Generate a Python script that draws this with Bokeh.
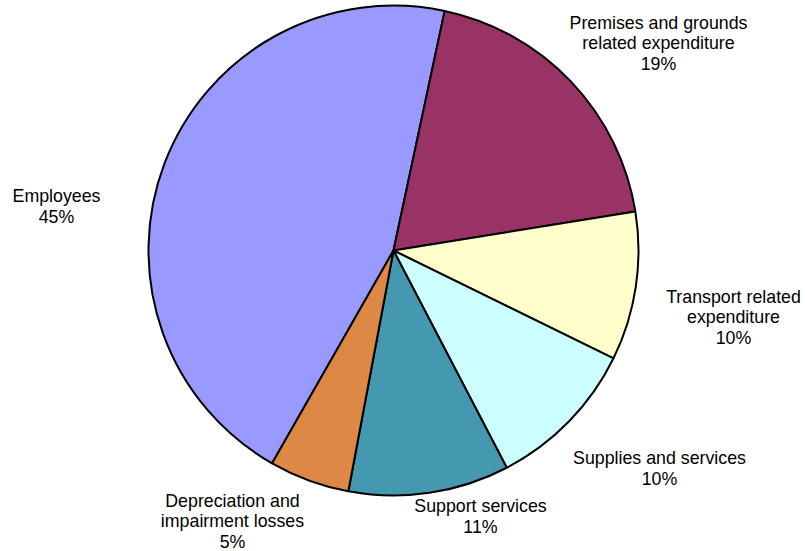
import numpy as np
from bokeh.plotting import figure
from bokeh.models import ColumnDataSource
from bokeh.core.properties import value
from bokeh.embed import file_html
from bokeh.resources import INLINE

# ---- data ----
categories = ["Employees", "Premises and grounds\nrelated expenditure", "Transport related\nexpenditure",
              "Supplies and services", "Support services", "Depreciation and\nimpairment losses"]
shares = [45.1, 19.1, 9.8, 10.1, 10.6, 5.3]
colors = ["#9999FF", "#993366", "#FFFFCC", "#CCFFFF", "#4499B0", "#DD8844"]

# ---- layout (pixel frame, y measured from top) ----
W, H = 805, 551
cx, cy, R = 393, 250, 245
start_deg = 240.3
label_pos = [(56, 206), (658, 43), (733, 317), (659, 468), (480, 516), (232, 521)]

vals = np.array(shares, dtype=float)
frac = vals / vals.sum()
ends = np.cumsum(frac) * 2 * np.pi
starts = ends - frac * 2 * np.pi
a0 = np.deg2rad(start_deg) - starts
a1 = np.deg2rad(start_deg) - ends

src = ColumnDataSource(dict(start=a0, end=a1, color=colors))

p = figure(width=W, height=H, x_range=(0, W), y_range=(0, H), output_backend="svg",
           toolbar_location=None, min_border=0, outline_line_color=None)
p.axis.visible = False
p.grid.visible = False

p.wedge(x=cx, y=H - cy, radius=R, start_angle="start", end_angle="end", direction="clock",
        fill_color="color", line_color="black", line_width=2, source=src)

texts = [f"{c}\n{int(v + 0.5)}%" for c, v in zip(categories, vals)]
lsrc = ColumnDataSource(dict(x=[q[0] for q in label_pos], y=[H - q[1] for q in label_pos], t=texts))
p.text(x="x", y="y", text="t", source=lsrc, text_align="center", text_baseline="middle",
       text_font=value("Liberation Sans"), text_font_size="17.8px", text_color="#000000",
       text_line_height=1.03)

open("out.html", "w").write(file_html(p, INLINE))
